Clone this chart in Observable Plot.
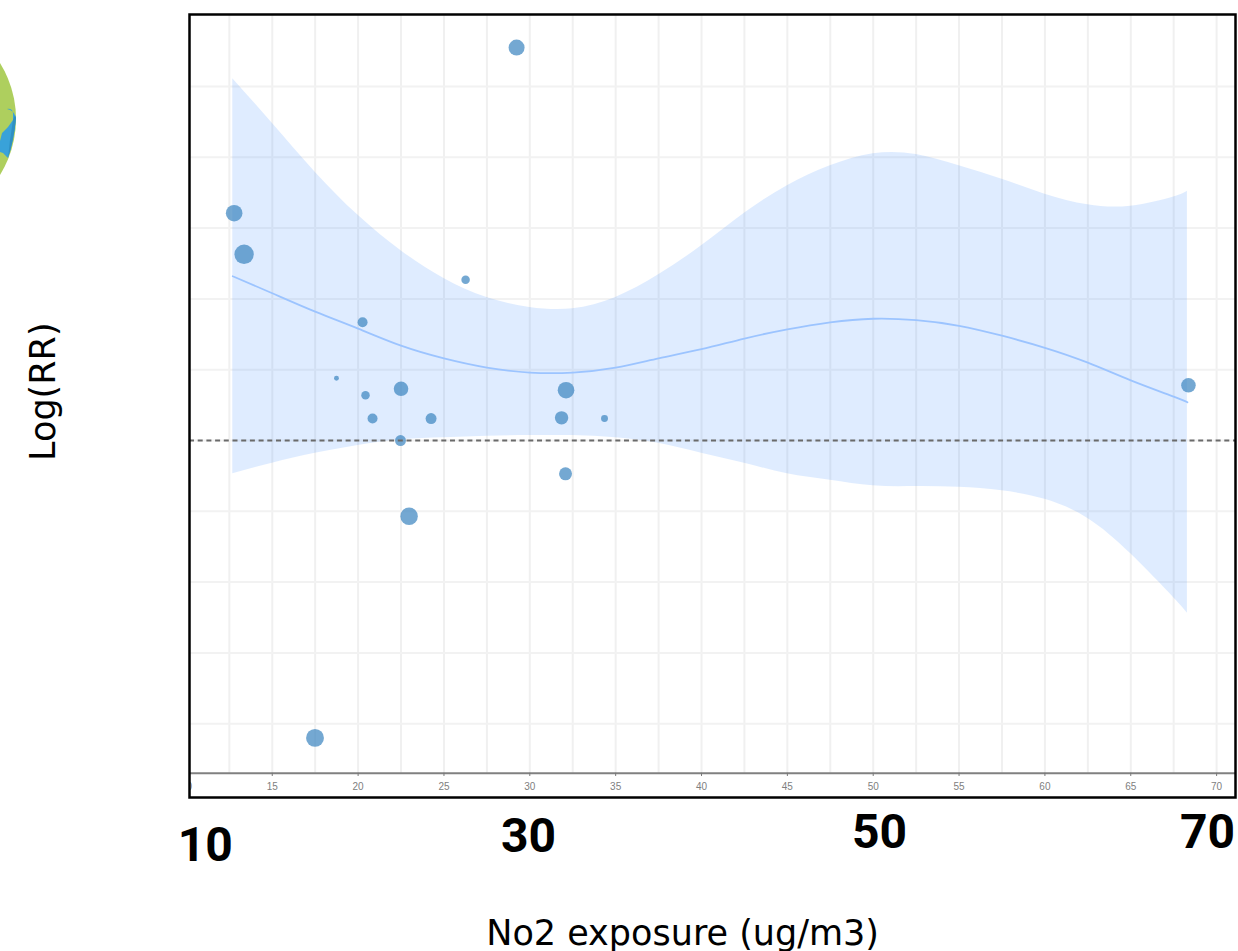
<!DOCTYPE html>
<html>
<head>
<meta charset="utf-8">
<script src="https://cdn.jsdelivr.net/npm/d3@7"></script>
<script src="https://cdn.jsdelivr.net/npm/@observablehq/plot@0.6"></script>
<style>
  html, body { margin: 0; padding: 0; background: #fff; }
  #wrap { position: relative; width: 1238px; height: 951px; overflow: hidden; }
  #wrap svg { display: block; }
  #globe { position: absolute; left: 0; top: 0; }
</style>
</head>
<body>
<div id="wrap">
<svg id="globe" width="24" height="190" viewBox="0 0 24 190" aria-hidden="true">
  <circle cx="-90" cy="119" r="106" fill="#aecf5e"></circle>
  <path d="M7 109 Q12 108 13 113 L13 120 L8 127 L2 133 L0 141 L0 152 L3 153 L8 158 Q14 140 16 118 Q14 110 7 109 Z" fill="#39a2d9"></path>
  <path d="M8 158 L10 140 L13 120 L15 115 L16 118 Q14 140 8 158 Z" fill="#2f90c2"></path>
</svg>
</div>
<script>
// Fitted curve (x in ug/m3, y in log RR)
const curveX = [12.7,15,17.5,20,22.5,25,27.5,30,32.5,35,37.5,40,42.5,45,47.5,50,52.5,55,57.5,60,62.5,65,67.5,68.3];
const upperCI = [.511,.448,.379,.318,.268,.229,.202,.188,.186,.202,.234,.275,.321,.360,.388,.405,.404,.388,.369,.348,.333,.331,.344,.352];
const lowerCI = [-.047,-.032,-.018,-.007,.001,.004,.006,.007,.007,.004,-.004,-.018,-.032,-.047,-.056,-.064,-.065,-.066,-.071,-.083,-.110,-.160,-.222,-.244];
const fitted = [.232,.208,.182,.158,.134,.116,.103,.096,.096,.103,.116,.129,.144,.157,.167,.172,.170,.162,.148,.131,.110,.085,.062,.054];

// Studies
const studyX = [12.78,13.36,29.23,26.26,20.26,18.74,20.43,22.50,20.84,24.25,22.47,32.11,31.85,34.35,32.08,22.97,17.49,68.36];
const studyY = [.321,.263,.555,.227,.167,.088,.064,.073,.031,.031,0,.071,.032,.031,-.047,-.107,-.420,.078];
const studyWeight = [69,94,64,18,25,6,18,53,25,30,30,69,45,12,42,76,80,53];

// Axes
const xDomain = [10.18, 71.10];
const yDomain = [-.5042, .6017];
const xTicks = [15,20,25,30,35,40,45,50,55,60,65,70];
const xGrid = [12.5,15,17.5,20,22.5,25,27.5,30,32.5,35,37.5,40,42.5,45,47.5,50,52.5,55,57.5,60,62.5,65,67.5,70];
const yGrid = [.5,.4,.3,.2,.1,0,-.1,-.2,-.3,-.4];
const axisLevel = -.470;
const tickEnd = -.4745;

// Overlaid large labels
const bigLabels = ["10","30","50","70"];
const bigLabelX = [11.1,29.93,50.37,69.47];
const bigLabelY = [-.572,-.559,-.554,-.554];

const band = curveX.map((x,i) => ({x, y1: lowerCI[i], y2: upperCI[i], fit: fitted[i]}));
const studies = studyX.map((x,i) => ({x, y: studyY[i], weight: studyWeight[i]}));
const big = bigLabels.map((t,i) => ({t, x: bigLabelX[i], y: bigLabelY[i]}));

const chart = Plot.plot({
  width: 1238, height: 951,
  marginLeft: 189, marginRight: 3, marginTop: 14, marginBottom: 154,
  style: {background: "transparent", overflow: "visible"},
  x: {domain: xDomain, axis: null},
  y: {domain: yDomain, axis: null},
  r: {domain: [0, 100], range: [0, 10]},
  marks: [
    Plot.ruleX(xGrid, {x: d => d, y1: axisLevel, y2: yDomain[1], stroke: "#f0f0f0", strokeWidth: 2}),
    Plot.ruleY(yGrid, {y: d => d, stroke: "#f2f2f2", strokeWidth: 2}),
    Plot.areaY(band, {x: "x", y1: "y1", y2: "y2", curve: "natural", fill: "#3f8cff", fillOpacity: 0.17}),
    Plot.line(band, {x: "x", y: "fit", curve: "natural", stroke: "#9cc4ff", strokeWidth: 1.8}),
    Plot.dot(studies, {x: "x", y: "y", r: "weight", fill: "#3f86c0", fillOpacity: 0.72, stroke: "none"}),
    Plot.ruleY([0], {y: d => d, stroke: "#6a6a6a", strokeWidth: 2, strokeDasharray: "5 3.7"}),
    Plot.ruleY([axisLevel], {y: d => d, stroke: "#808080", strokeWidth: 2}),
    Plot.ruleX(xTicks, {x: d => d, y1: axisLevel, y2: tickEnd, stroke: "#777", strokeWidth: 1}),
    Plot.text(xTicks, {x: d => d, y: () => axisLevel, dy: 14, text: d => String(d), fill: "#808080", fontSize: 10, fontFamily: "Liberation Sans"}),
    Plot.text([10], {x: d => d, y: () => axisLevel, dy: 14, text: d => String(d), fill: "#808080", fontSize: 10, fontFamily: "Liberation Sans", clip: "frame"}),
    Plot.frame({stroke: "#000", strokeWidth: 2.5}),
    Plot.text(big, {x: "x", y: "y", text: "t", fill: "#000", fontSize: 48, fontWeight: 700, fontFamily: "Roboto"}),
    Plot.text(["No2 exposure (ug/m3)"], {x: () => 38.9, y: () => -.696, text: d => d, fill: "#000", fontSize: 35, fontFamily: "DejaVu Sans"}),
    Plot.text(["Log(RR)"], {x: () => 1.68, y: () => .069, rotate: -90, text: d => d, fill: "#000", fontSize: 35, fontFamily: "DejaVu Sans"})
  ]
});
document.getElementById("wrap").prepend(chart);
</script>
</body>
</html>
